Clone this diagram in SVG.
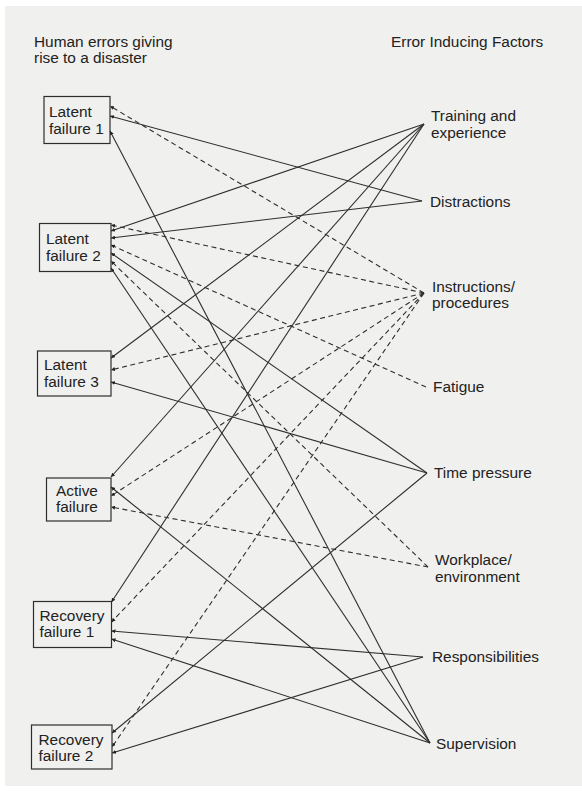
<svg xmlns="http://www.w3.org/2000/svg" width="582" height="791" viewBox="0 0 582 791">
  <style>
    text { font-family: "Liberation Sans", Arial, sans-serif; font-size: 15.4px; fill: #222; }
    .box { fill: none; stroke: #2e2e2e; stroke-width: 1.2; }
    .s { stroke: #2e2e2e; stroke-width: 1.1; fill: none; marker-end: url(#ah); }
    .d { stroke: #2e2e2e; stroke-width: 1.1; fill: none; stroke-dasharray: 5 3.5; marker-end: url(#ah); }
  </style>
  <defs>
    <marker id="ah" viewBox="0 0 6 6" refX="6" refY="3" markerWidth="4" markerHeight="4" markerUnits="userSpaceOnUse" orient="auto">
      <path d="M0,0 L6,3 L0,6 z" fill="#222"/>
    </marker>
  </defs>

  <!-- paper -->
  <rect x="0" y="0" width="582" height="791" fill="#ffffff"/>
  <rect x="5" y="6" width="577" height="780" fill="#f0f0ee"/>

  <!-- column headings -->
  <g id="heading-left">
    <text x="34" y="47">Human errors giving</text>
    <text x="34" y="63">rise to a disaster</text>
  </g>
  <g id="heading-right">
    <text x="391" y="47">Error Inducing Factors</text>
  </g>

  <!-- connectors: drawn from factor to failure, arrowhead at the failure box -->
  <g id="connectors">
    <!-- Latent failure 1 -->
    <line class="d" x1="424" y1="293" x2="110" y2="106"/>
    <line class="s" x1="422" y1="201" x2="110" y2="116"/>
    <line class="s" x1="430" y1="743" x2="110" y2="131"/>
    <!-- Latent failure 2 -->
    <line class="d" x1="424" y1="293" x2="111" y2="225"/>
    <line class="s" x1="424" y1="124" x2="111" y2="231"/>
    <line class="s" x1="422" y1="201" x2="111" y2="238"/>
    <line class="d" x1="426" y1="387" x2="111" y2="245"/>
    <line class="s" x1="427" y1="473" x2="111" y2="253"/>
    <line class="d" x1="428" y1="567" x2="111" y2="261"/>
    <line class="s" x1="430" y1="743" x2="111" y2="268"/>
    <!-- Latent failure 3 -->
    <line class="s" x1="424" y1="124" x2="111" y2="358"/>
    <line class="d" x1="424" y1="293" x2="111" y2="370"/>
    <line class="s" x1="427" y1="473" x2="111" y2="382"/>
    <!-- Active failure -->
    <line class="s" x1="424" y1="124" x2="111" y2="477" stroke-width="1.5"/>
    <line class="s" x1="430" y1="743" x2="111" y2="487"/>
    <line class="d" x1="424" y1="293" x2="111" y2="496"/>
    <line class="d" x1="428" y1="567" x2="111" y2="507"/>
    <!-- Recovery failure 1 -->
    <line class="s" x1="424" y1="124" x2="111.5" y2="602"/>
    <line class="d" x1="424" y1="293" x2="111.5" y2="622"/>
    <line class="s" x1="423" y1="657" x2="111.5" y2="631"/>
    <line class="s" x1="430" y1="743" x2="111.5" y2="639"/>
    <!-- Recovery failure 2 -->
    <line class="s" x1="427" y1="473" x2="112" y2="733"/>
    <line class="d" x1="424" y1="293" x2="112" y2="747"/>
    <line class="s" x1="423" y1="657" x2="112" y2="753"/>
  </g>

  <!-- failures (left column) -->
  <g id="latent-failure-1">
    <rect class="box" x="44" y="96.5" width="66" height="47"/>
    <text x="49" y="117">Latent</text>
    <text x="49" y="134">failure 1</text>
  </g>
  <g id="latent-failure-2">
    <rect class="box" x="39.5" y="223.5" width="71.5" height="48"/>
    <text x="46" y="243.5">Latent</text>
    <text x="46" y="260.5">failure 2</text>
  </g>
  <g id="latent-failure-3">
    <rect class="box" x="37.5" y="351" width="73.5" height="45"/>
    <text x="44" y="369.5">Latent</text>
    <text x="44" y="386.5">failure 3</text>
  </g>
  <g id="active-failure">
    <rect class="box" x="46.5" y="478" width="64.5" height="43"/>
    <text x="56" y="496">Active</text>
    <text x="56" y="512">failure</text>
  </g>
  <g id="recovery-failure-1">
    <rect class="box" x="33.5" y="601.5" width="78" height="46"/>
    <text x="39.5" y="621">Recovery</text>
    <text x="39.5" y="637">failure 1</text>
  </g>
  <g id="recovery-failure-2">
    <rect class="box" x="31.5" y="725" width="80.5" height="44"/>
    <text x="38.5" y="744.5">Recovery</text>
    <text x="38.5" y="761">failure 2</text>
  </g>

  <!-- error inducing factors (right column) -->
  <g id="training">
    <text x="431" y="121">Training and</text>
    <text x="431" y="138">experience</text>
  </g>
  <g id="distractions">
    <text x="430" y="207">Distractions</text>
  </g>
  <g id="instructions">
    <text x="432" y="292">Instructions/</text>
    <text x="432" y="308">procedures</text>
  </g>
  <g id="fatigue">
    <text x="433" y="392">Fatigue</text>
  </g>
  <g id="time-pressure">
    <text x="434" y="478">Time pressure</text>
  </g>
  <g id="workplace">
    <text x="435" y="565">Workplace/</text>
    <text x="435" y="582">environment</text>
  </g>
  <g id="responsibilities">
    <text x="432" y="662">Responsibilities</text>
  </g>
  <g id="supervision">
    <text x="436" y="749">Supervision</text>
  </g>
</svg>
